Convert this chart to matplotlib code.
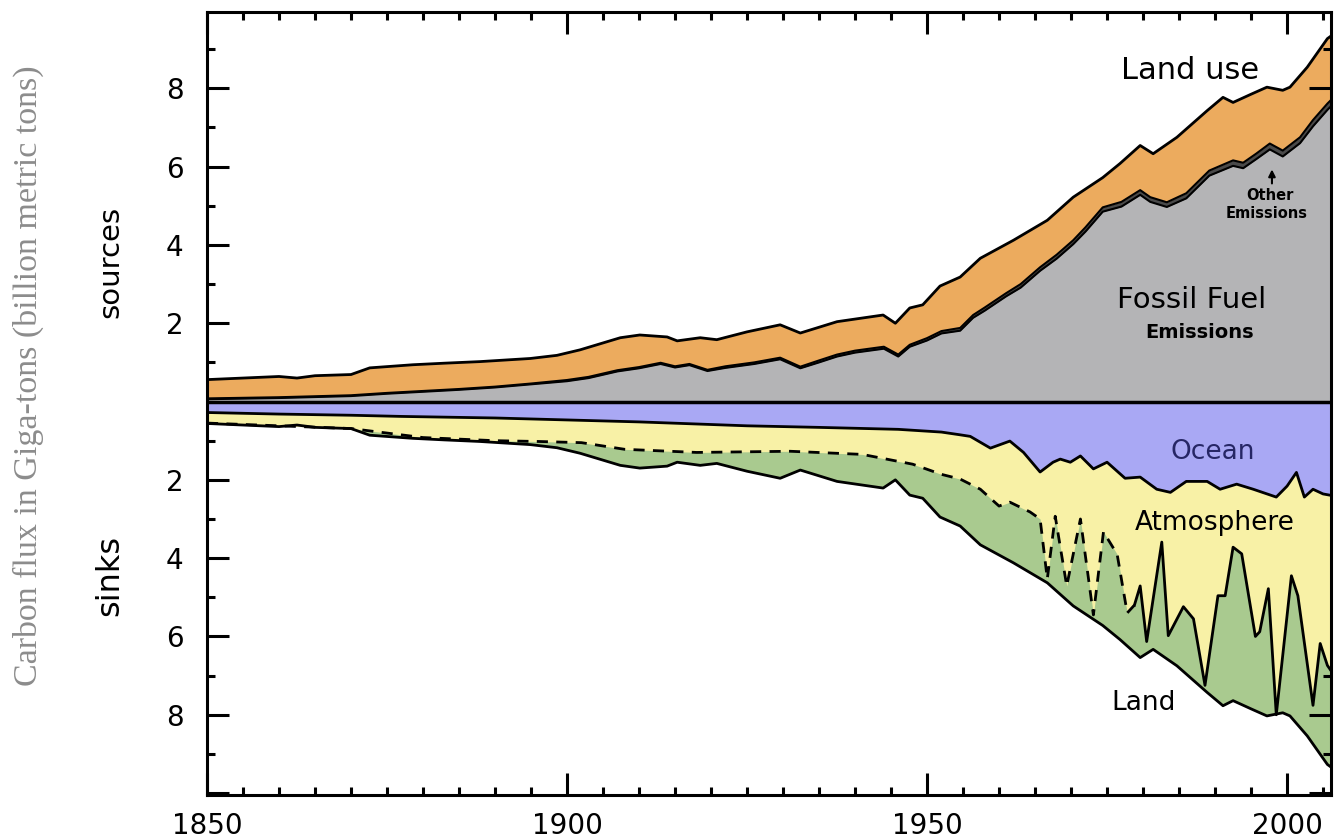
import matplotlib.pyplot as plt
import numpy as np
from matplotlib.ticker import MultipleLocator, FuncFormatter

# ---- sources (GtC / yr), boundaries ----
# top of the orange band = fossil + other + land use
total_years = [1850, 1855, 1860, 1862.5, 1865, 1870, 1872.6, 1878.6, 1883, 1887.9,
               1894.9, 1898.6, 1901.8, 1907.4, 1910.1, 1913.9, 1915.3, 1918.5, 1920.8,
               1925, 1929.6, 1932.4, 1937.5, 1943.9, 1945.6, 1947.6, 1949.4, 1951.8,
               1954.6, 1957.4, 1962, 1966.7, 1970.3, 1974.4, 1976.8, 1979.6, 1981.4,
               1984.7, 1988.9, 1991.1, 1992.5, 1995, 1997.2, 1999.4, 2000.4, 2002.8,
               2005.6, 2006.2]
total_vals = [0.56, 0.60, 0.64, 0.60, 0.66, 0.69, 0.86, 0.94, 0.98, 1.02,
              1.10, 1.18, 1.32, 1.63, 1.70, 1.65, 1.55, 1.63, 1.58,
              1.78, 1.96, 1.75, 2.04, 2.21, 2.00, 2.39, 2.47, 2.95,
              3.18, 3.66, 4.12, 4.63, 5.22, 5.72, 6.08, 6.54, 6.33,
              6.75, 7.43, 7.77, 7.64, 7.85, 8.03, 7.95, 8.03, 8.54,
              9.27, 9.35]

# bottom of the orange band = fossil fuel + other emissions
fo_years = [1850, 1860, 1870, 1875, 1880, 1885, 1890, 1895, 1900, 1903, 1907, 1910,
            1913, 1915, 1917, 1919.5, 1922, 1926, 1929.6, 1932.4, 1935, 1937.5, 1940,
            1944, 1946, 1947.6, 1950, 1952, 1954.6, 1956.4, 1958, 1961, 1963, 1965.7,
            1968, 1970.3, 1972, 1974.4, 1977, 1979.6, 1981, 1983.3, 1986, 1989.2,
            1992.5, 1993.9, 1995.7, 1997.6, 1999.4, 2001.8, 2003.6, 2005.6, 2006.2]
fo_vals = [0.08, 0.11, 0.16, 0.22, 0.27, 0.32, 0.38, 0.46, 0.55, 0.63, 0.80, 0.88,
           0.99, 0.90, 0.96, 0.81, 0.90, 1.00, 1.12, 0.89, 1.05, 1.20, 1.30,
           1.40, 1.20, 1.45, 1.62, 1.80, 1.88, 2.21, 2.40, 2.77, 3.00, 3.43,
           3.75, 4.12, 4.45, 4.96, 5.10, 5.40, 5.22, 5.09, 5.32, 5.90,
           6.16, 6.10, 6.33, 6.59, 6.41, 6.75, 7.19, 7.61, 7.72]
# thickness of the thin "other emissions" band on the same years
other_vals = [0.02, 0.02, 0.02, 0.02, 0.02, 0.02, 0.02, 0.02, 0.03, 0.03, 0.03, 0.03,
              0.03, 0.03, 0.03, 0.03, 0.04, 0.04, 0.04, 0.04, 0.05, 0.05, 0.05,
              0.05, 0.05, 0.05, 0.06, 0.06, 0.07, 0.07, 0.08, 0.08, 0.09, 0.09,
              0.10, 0.10, 0.11, 0.11, 0.12, 0.12, 0.12, 0.12, 0.13, 0.13,
              0.14, 0.14, 0.14, 0.15, 0.15, 0.15, 0.16, 0.16, 0.16]

# ---- sinks (negative = uptake) ----
ocean_years = [1850, 1860, 1870, 1877, 1890, 1900, 1910, 1925, 1935, 1946, 1952, 1954.6,
               1956, 1958.8, 1961.5, 1963.4, 1965.7, 1967.5, 1968.5, 1969.9, 1971.3,
               1973.1, 1975, 1977.5, 1979.6, 1981.9, 1983.8, 1986, 1988.9, 1990.7,
               1993, 1995.3, 1998.5, 2000, 2001.3, 2002.4, 2003.6, 2005, 2006.2]
ocean_vals = [-0.28, -0.32, -0.35, -0.38, -0.42, -0.47, -0.52, -0.62, -0.66, -0.71, -0.78,
              -0.85, -0.89, -1.19, -1.01, -1.30, -1.80, -1.55, -1.47, -1.55, -1.39,
              -1.72, -1.55, -1.96, -1.93, -2.24, -2.32, -2.04, -2.04, -2.24,
              -2.11, -2.24, -2.44, -2.16, -1.81, -2.44, -2.24, -2.36, -2.40]

# ocean + atmospheric growth (dashed up to ~1979, solid after)
atm_years = [1850, 1860, 1870, 1880, 1890, 1896, 1902, 1908, 1918, 1931, 1941, 1948,
             1952, 1954.6, 1957.4, 1960, 1961.5, 1964.3, 1965.7, 1966.7, 1967.8,
             1969.4, 1971.3, 1973.1, 1974.5, 1976.4, 1977.8, 1978.8, 1979.6, 1980.5,
             1982.6, 1983.5, 1985.6, 1987, 1988.6, 1990.4, 1991.4, 1992.5, 1993.7,
             1995.6, 1996.2, 1997.4, 1998.5, 2000.6, 2001.5, 2003.6, 2004.6, 2005.6,
             2006.2]
atm_vals = [-0.55, -0.62, -0.69, -0.92, -1.00, -1.02, -1.05, -1.22, -1.30, -1.27, -1.35,
            -1.60, -1.86, -1.98, -2.24, -2.67, -2.57, -2.82, -3.00, -4.53, -2.93,
            -4.71, -3.00, -5.45, -3.33, -3.90, -5.40, -5.20, -4.71, -6.13,
            -3.59, -5.98, -5.24, -5.55, -7.25, -4.96, -4.96, -3.72, -3.89,
            -6.00, -5.88, -4.78, -8.00, -4.45, -4.96, -7.76, -6.18, -6.74,
            -6.90]
atm_split = 1978.8

orange = '#ECAB5E'
gray = '#B4B4B6'
band = '#4A4A4A'
blue = '#A9A8F4'
yellow = '#F8F1A6'
green = '#A9CA8F'

fig = plt.figure(figsize=(13.34, 8.38), dpi=100)
ax = fig.add_axes([207 / 1334, 1 - 795 / 838, (1331 - 207) / 1334, (795 - 12) / 838])

ty = np.array(total_years)
tv = np.array(total_vals)
fy = np.array(fo_years)
fv = np.array(fo_vals)
fossil = fv - np.array(other_vals)

# sources
ax.fill_between(ty, 0, tv, color=orange, lw=0, zorder=1)
ax.fill_between(fy, 0, fv, color=band, lw=0, zorder=2)
ax.fill_between(fy, 0, fossil, color=gray, lw=0, zorder=3)
ax.plot(ty, tv, color='k', lw=2.0, zorder=5)
ax.plot(fy, fv, color='k', lw=1.5, zorder=5)
ax.plot(fy, fossil, color='k', lw=1.5, zorder=5)

# sinks: total sink mirrors total source
ay = np.array(atm_years)
av = np.array(atm_vals)
ax.fill_between(ty, 0, -tv, color=green, lw=0, zorder=1)
ax.fill_between(ay, 0, av, color=yellow, lw=0, zorder=2)
ax.fill_between(ocean_years, 0, ocean_vals, color=blue, lw=0, zorder=3)
ax.plot(ty, -tv, color='k', lw=2.0, zorder=5)
ax.plot(ocean_years, ocean_vals, color='k', lw=2.0, zorder=5)
dash = ay <= atm_split
solid = ay >= atm_split
ax.plot(ay[dash], av[dash], color='k', lw=2.0, ls=(0, (4, 3)), zorder=5)
ax.plot(ay[solid], av[solid], color='k', lw=2.0, zorder=5)

ax.axhline(0, color='k', lw=2.5, zorder=6)

ax.set_xlim(1850, 2006.1)
ax.set_ylim(-10.05, 9.95)
ax.xaxis.set_major_locator(MultipleLocator(50))
ax.xaxis.set_minor_locator(MultipleLocator(5))
ax.yaxis.set_major_locator(MultipleLocator(2))
ax.yaxis.set_minor_locator(MultipleLocator(1))
ax.yaxis.set_major_formatter(FuncFormatter(lambda v, p: '%d' % abs(v) if 0 < abs(v) < 9 else ''))
ax.tick_params(which='both', direction='in', top=True, right=True, width=2.2, zorder=7)
ax.tick_params(which='major', length=16, labelsize=20)
ax.tick_params(which='minor', length=6)
ax.tick_params(axis='y', pad=17)
ax.tick_params(axis='x', pad=12)
for s in ax.spines.values():
    s.set_linewidth(2.2)
    s.set_zorder(7)

# labels inside the plot
ax.text(1986.5, 8.46, 'Land use', fontsize=22, ha='center', va='center', zorder=8)
ax.text(1997.6, 5.27, 'Other', fontsize=10.5, fontweight='bold', ha='center', va='center', zorder=8)
ax.text(1997.1, 4.81, 'Emissions', fontsize=10.5, fontweight='bold', ha='center', va='center', zorder=8)
ax.annotate('', xy=(1997.9, 6.0), xytext=(1997.9, 5.5),
            arrowprops=dict(arrowstyle='-|>', color='k', lw=1.5, mutation_scale=10), zorder=8)
ax.text(1986.8, 2.59, 'Fossil Fuel', fontsize=21, ha='center', va='center', zorder=8)
ax.text(1987.9, 1.77, 'Emissions', fontsize=14, fontweight='bold', ha='center', va='center', zorder=8)
ax.text(1989.7, -1.29, 'Ocean', fontsize=19, color='#262665', ha='center', va='center', zorder=8)
ax.text(1990.0, -3.10, 'Atmosphere', fontsize=19, ha='center', va='center', zorder=8)
ax.text(1980.0, -7.70, 'Land', fontsize=19, ha='center', va='center', zorder=8)

fig.text(110 / 1334, 1 - 262 / 838, 'sources', fontsize=21, rotation=90, ha='center', va='center')
fig.text(110 / 1334, 1 - 575 / 838, 'sinks', fontsize=23, rotation=90, ha='center', va='center')
fig.text(28 / 1334, 1 - 376 / 838, 'Carbon flux in Giga-tons (billion metric tons)',
         fontsize=24.5, family='Liberation Serif', color='#8C8C8C', rotation=90,
         ha='center', va='center')

fig.savefig('out.png', dpi=100)
